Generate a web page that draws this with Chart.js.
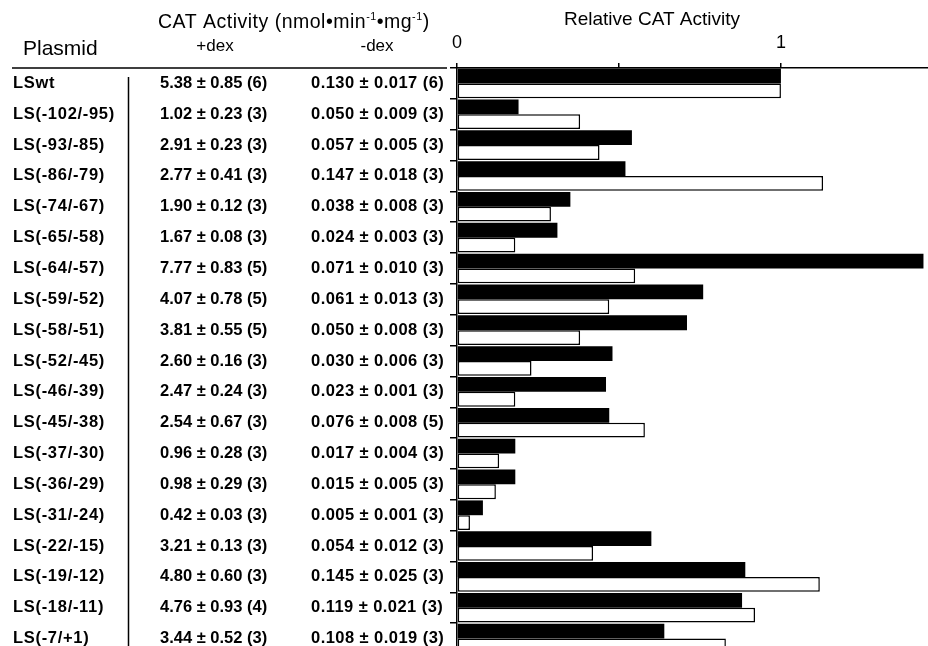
<!DOCTYPE html>
<html>
<head>
<meta charset="utf-8">
<script src="https://cdn.jsdelivr.net/npm/chart.js@4"></script>
<style>
  html, body { margin: 0; padding: 0; background: #fff; overflow: hidden; }
  #wrap { width: 928px; height: 660px; position: relative; }
</style>
</head>
<body>
<div id="wrap"><canvas id="chart"></canvas></div>
<script>
// プラスミド名
const plasmids = [
  "LSwt", "LS(-102/-95)", "LS(-93/-85)", "LS(-86/-79)", "LS(-74/-67)",
  "LS(-65/-58)", "LS(-64/-57)", "LS(-59/-52)", "LS(-58/-51)", "LS(-52/-45)",
  "LS(-46/-39)", "LS(-45/-38)", "LS(-37/-30)", "LS(-36/-29)", "LS(-31/-24)",
  "LS(-22/-15)", "LS(-19/-12)", "LS(-18/-11)", "LS(-7/+1)"
];

// CAT活性（表の文字）
const plusDexText = [
  "5.38 ± 0.85 (6)", "1.02 ± 0.23 (3)", "2.91 ± 0.23 (3)", "2.77 ± 0.41 (3)", "1.90 ± 0.12 (3)",
  "1.67 ± 0.08 (3)", "7.77 ± 0.83 (5)", "4.07 ± 0.78 (5)", "3.81 ± 0.55 (5)", "2.60 ± 0.16 (3)",
  "2.47 ± 0.24 (3)", "2.54 ± 0.67 (3)", "0.96 ± 0.28 (3)", "0.98 ± 0.29 (3)", "0.42 ± 0.03 (3)",
  "3.21 ± 0.13 (3)", "4.80 ± 0.60 (3)", "4.76 ± 0.93 (4)", "3.44 ± 0.52 (3)"
];
const minusDexText = [
  "0.130 ± 0.017 (6)", "0.050 ± 0.009 (3)", "0.057 ± 0.005 (3)", "0.147 ± 0.018 (3)", "0.038 ± 0.008 (3)",
  "0.024 ± 0.003 (3)", "0.071 ± 0.010 (3)", "0.061 ± 0.013 (3)", "0.050 ± 0.008 (3)", "0.030 ± 0.006 (3)",
  "0.023 ± 0.001 (3)", "0.076 ± 0.008 (5)", "0.017 ± 0.004 (3)", "0.015 ± 0.005 (3)", "0.005 ± 0.001 (3)",
  "0.054 ± 0.012 (3)", "0.145 ± 0.025 (3)", "0.119 ± 0.021 (3)", "0.108 ± 0.019 (3)"
];

// 相対CAT活性
const relPlusDex = [1.00, 0.19, 0.54, 0.52, 0.35, 0.31, 1.44, 0.76, 0.71, 0.48,
                    0.46, 0.47, 0.18, 0.18, 0.08, 0.60, 0.89, 0.88, 0.64];
const relMinusDex = [1.00, 0.38, 0.44, 1.13, 0.29, 0.18, 0.55, 0.47, 0.38, 0.23,
                     0.18, 0.58, 0.13, 0.12, 0.04, 0.42, 1.12, 0.92, 0.83];

const xTicks = [0, 0.5, 1];
const FONT = '"Liberation Sans", Arial, Helvetica, sans-serif';

// 上付き文字つきテキストを描く
function drawParts(ctx, parts, x, y, size) {
  parts.forEach(([txt, sup]) => {
    ctx.font = (sup ? size * 0.55 : size) + "px " + FONT;
    ctx.fillText(txt, x, sup ? y - size * 0.28 : y);
    x += ctx.measureText(txt).width;
  });
}

// 左側の表を描くプラグイン
const tablePlugin = {
  id: "table",
  afterDraw(chart) {
    const ctx = chart.ctx;
    const yScale = chart.scales.y;
    ctx.save();
    ctx.fillStyle = "#000";
    ctx.strokeStyle = "#000";
    ctx.textBaseline = "middle";
    ctx.textAlign = "left";

    // 見出し
    ctx.letterSpacing = "0.5px";
    drawParts(ctx, [["CAT Activity (nmol•min", false], ["-1", true], ["•mg", false], ["-1", true], [")", false]], 158, 23, 19.5);
    ctx.letterSpacing = "0px";
    ctx.font = "21px " + FONT;
    ctx.fillText("Plasmid", 23, 49);
    ctx.textAlign = "center";
    ctx.font = "17px " + FONT;
    ctx.fillText("+dex", 215, 46);
    ctx.fillText("-dex", 377, 46);
    ctx.font = "19px " + FONT;
    ctx.fillText("Relative CAT Activity", 652, 20);

    // 行
    ctx.textAlign = "left";
    ctx.font = "bold 16.5px " + FONT;
    plasmids.forEach((p, i) => {
      const y = yScale.getPixelForValue(i);
      ctx.letterSpacing = "0.7px";
      ctx.fillText(p, 13, y);
      ctx.letterSpacing = "0px";
      ctx.fillText(plusDexText[i], 160, y);
      ctx.letterSpacing = "0.45px";
      ctx.fillText(minusDexText[i], 311, y);
    });
    ctx.letterSpacing = "0px";

    // 罫線
    ctx.lineWidth = 1.5;
    ctx.beginPath();
    ctx.moveTo(12, chart.chartArea.top);
    ctx.lineTo(447, chart.chartArea.top);
    ctx.moveTo(128.5, 77);
    ctx.lineTo(128.5, chart.height);
    ctx.stroke();
    ctx.restore();
  }
};

const chart = new Chart(document.getElementById("chart"), {
  type: "bar",
  data: {
    labels: plasmids,
    datasets: [
      { label: "+dex", data: relPlusDex, backgroundColor: "#000", borderWidth: 0 },
      { label: "-dex", data: relMinusDex, backgroundColor: "#fff", borderColor: "#000", borderWidth: 1.5, borderSkipped: false }
    ]
  },
  options: {
    indexAxis: "y",
    responsive: true,
    maintainAspectRatio: false,
    animation: false,
    layout: { padding: { top: 0, right: 0, bottom: 6, left: 0 } },
    datasets: { bar: { categoryPercentage: 0.96, barPercentage: 1 } },
    plugins: { legend: { display: false }, tooltip: { enabled: false } },
    scales: {
      x: {
        position: "top",
        min: 0,
        max: 1.454,
        afterBuildTicks: (s) => { s.ticks = xTicks.map((v) => ({ value: v })); },
        afterFit: (s) => { s.height = 68; },
        ticks: {
          color: "#000",
          padding: 9,
          font: { family: FONT, size: 18 },
          callback: (v) => (v === 0.5 ? "" : v)
        },
        grid: { drawOnChartArea: false, drawTicks: true, tickLength: 5, color: "#000", lineWidth: 1.5 },
        border: { display: true, color: "#000", width: 1.5 }
      },
      y: {
        afterFit: (s) => { s.width = 457; },
        ticks: { display: false },
        grid: { offset: true, drawOnChartArea: false, drawTicks: true, tickLength: 7, color: "#000", lineWidth: 1.5 },
        border: { display: true, color: "#000", width: 1.5 }
      }
    }
  },
  plugins: [tablePlugin]
});
</script>
</body>
</html>
